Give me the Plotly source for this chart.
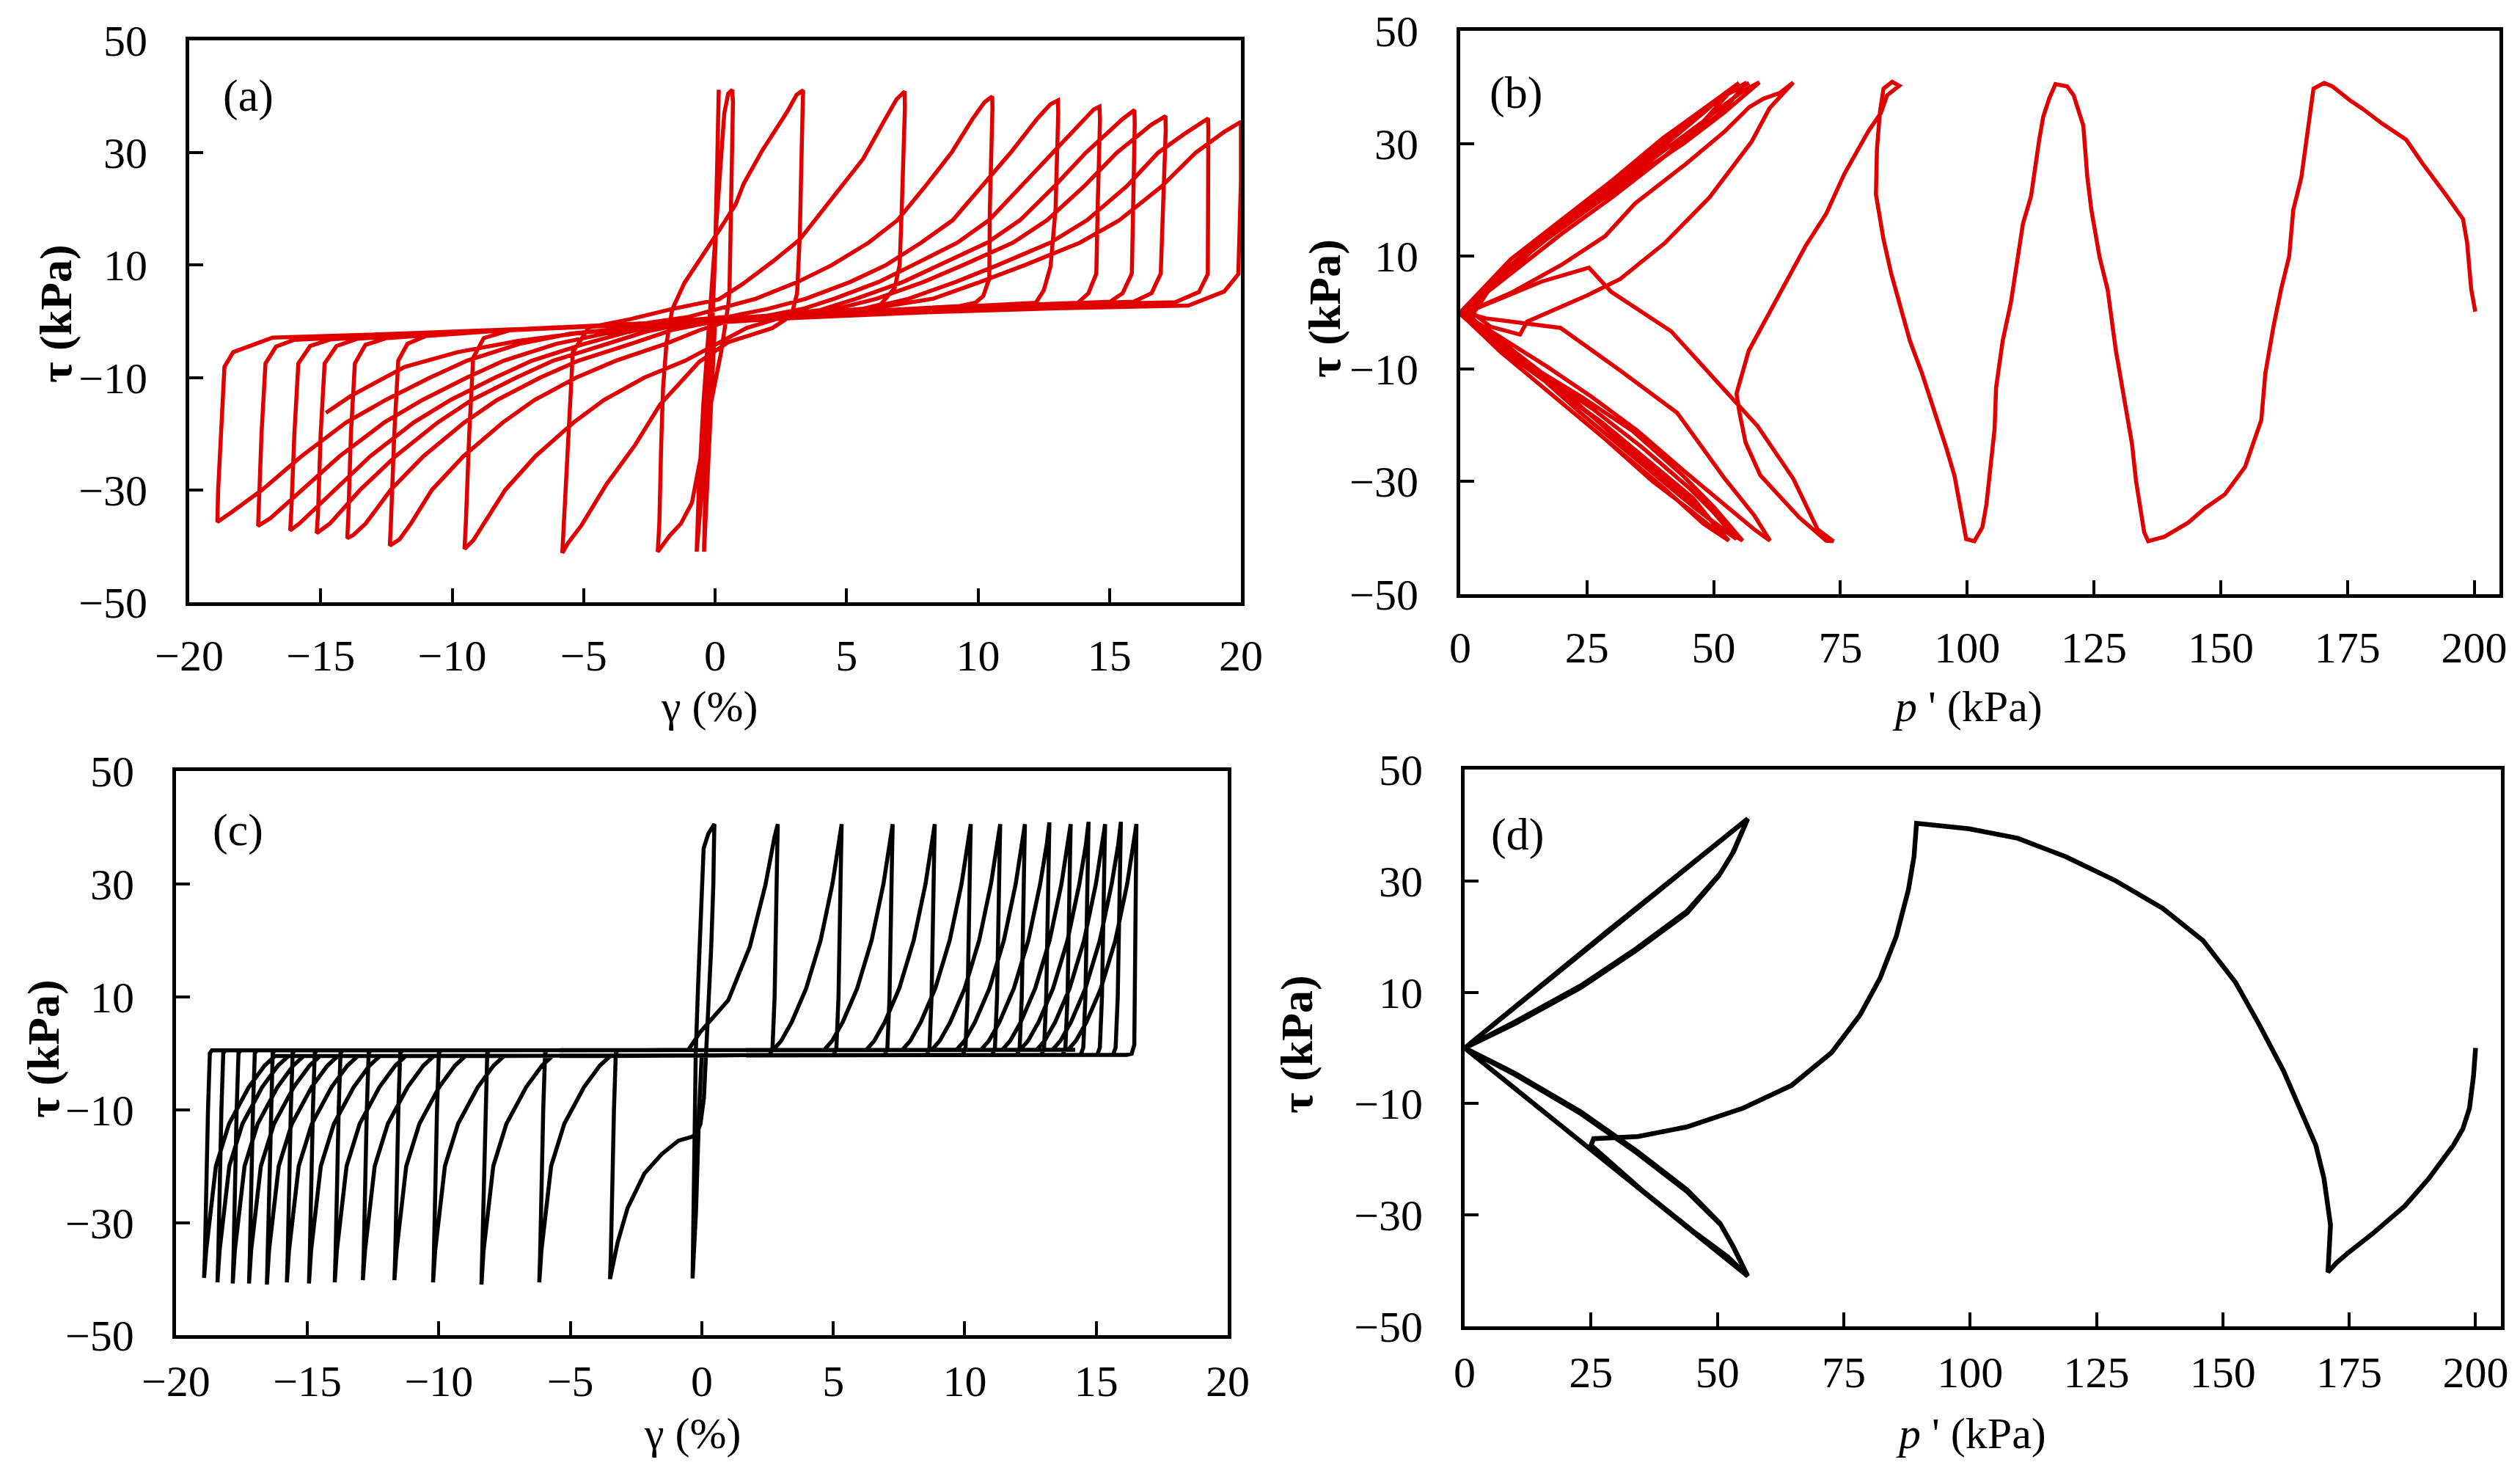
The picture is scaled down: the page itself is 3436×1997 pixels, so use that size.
import plotly.graph_objects as go

# ---------------- data ----------------
# (a) shear strain (%) vs shear stress (kPa), red record
a_early = [
    (0.0, 0.0), (-0.1, -10), (-0.25, -25), (-0.35, -35), (-0.42, -41.0),
    (-0.38, -32), (-0.25, -18), (-0.12, -4), (0.0, 12), (0.08, 28), (0.14, 41.2),
    (0.12, 32), (0.02, 14), (-0.12, -2), (-0.3, -16), (-0.5, -30), (-0.70, -41.0),
    (-0.62, -30), (-0.45, -15), (-0.22, 0), (0.02, 14), (0.2, 28), (0.35, 37), (0.5, 40.5), (0.65, 41.2),
    (0.68, 39), (0.62, 20), (0.55, 6), (0.51, 3.2), (0.23, -5.5), (-0.14, -14.2), (-0.61, -25.9),
    (-0.88, -32.3), (-1.3, -36), (-1.72, -38.1), (-2.18, -41.0),
    (-2.12, -36), (-2.05, -22), (-1.98, -12), (-1.85, -4), (-1.63, 2.1), (-1.17, 6.8), (-0.42, 12.0),
    (0.14, 16.1), (0.78, 20.8), (1.09, 24.5), (1.77, 30.2), (2.32, 34.1), (2.73, 37.2), (3.1, 40.3), (3.35, 41.1),
    (3.33, 38), (3.22, 15), (3.12, 5.0), (2.9, 1.0), (2.18, -1.2), (0.51, -3.7), (-0.6, -7.2), (-2.09, -14.8),
    (-3.04, -22), (-4.13, -29.0), (-5.08, -36.3), (-5.6, -39.5), (-5.81, -41.2),
    (-5.75, -36), (-5.6, -20), (-5.41, -5.5), (-4.8, -1.1), (-3.2, 0.4), (-1.72, 2.1), (0.14, 3.9), (1.07, 6.7),
    (2.18, 10.6), (3.21, 14.5), (3.95, 18.9), (4.79, 23.7), (5.63, 28.9), (6.46, 35.9), (6.9, 39.5), (7.21, 40.9),
]
a_late = [
    (7.22, 38), (7.1, 20), (7.02, 10.0), (6.83, 5.9), (6.3, 3.0), (5.6, 2.2), (4.0, 1.3), (2.4, 0.5), (1.2, -1.2),
    (0.07, -4), (-1.13, -7), (-2.68, -10), (-4.23, -14), (-5.38, -18), (-6.83, -24), (-7.98, -30), (-8.78, -36),
    (-9.2, -39), (-9.53, -40.5),
    (-9.48, -36), (-9.35, -20), (-9.2, -6.5), (-8.8, -3.0), (-7.8, -1.6), (-5.5, -1.1), (-3.0, -0.6), (-1.0, 0.8),
    (0.4, 2.5), (1.54, 4.0), (3.14, 7.0), (4.44, 10), (5.84, 14), (6.94, 18), (7.99, 24), (8.99, 30), (9.79, 36),
    (10.25, 39), (10.54, 40.0),
    (10.55, 38), (10.45, 20), (10.43, 7.6), (10.2, 4.5), (9.9, 3.3), (9.3, 2.7), (6.0, 1.9), (3.0, 1.1), (0.6, 0.2),
    (-0.6, -1.6), (-1.87, -4), (-3.77, -7), (-5.27, -10), (-6.87, -14), (-8.07, -18), (-9.57, -24), (-10.77, -30),
    (-11.57, -36), (-12.0, -38.8), (-12.37, -39.9),
    (-12.33, -36), (-12.2, -20), (-12.05, -7), (-11.7, -4.0), (-11.0, -2.6), (-8.0, -1.6), (-5.0, -1.0), (-2.0, -0.2),
    (0.5, 0.8), (2.0, 2.2), (3.44, 4), (5.14, 7), (6.5, 10), (7.84, 14), (9.04, 18), (10.14, 24), (11.24, 30),
    (12.24, 36), (12.75, 38.6), (13.04, 39.3),
    (13.05, 37), (12.95, 20), (12.76, 9.8), (12.5, 5.5), (12.2, 3.3), (9.0, 2.5), (6.0, 1.8), (3.0, 1.0), (0.0, 0.0),
    (-1.6, -1.5), (-3.19, -4), (-5.19, -7), (-6.64, -10), (-8.29, -14), (-9.54, -18), (-11.09, -24), (-12.34, -30),
    (-13.29, -36), (-13.75, -38), (-13.99, -38.6),
    (-13.95, -35), (-13.85, -20), (-13.7, -7.5), (-13.3, -4.2), (-12.5, -3.0), (-9.0, -1.8), (-5.0, -1.0), (-1.0, 0.0),
    (2.0, 1.0), (3.4, 2.3), (4.52, 4), (6.22, 7), (7.52, 10), (9.22, 14), (10.42, 18), (11.62, 24), (12.82, 30),
    (14.02, 36), (14.4, 37.7), (14.62, 38.2),
    (14.64, 36), (14.55, 20), (14.5, 8.5), (14.2, 5.0), (13.8, 3.3), (10.0, 2.6), (6.0, 1.8), (2.0, 0.8), (-1.0, -0.3),
    (-2.6, -1.8), (-4.15, -4), (-6.15, -7), (-7.55, -10), (-9.25, -14), (-10.55, -18), (-12.15, -24), (-13.5, -30),
    (-14.65, -36), (-15.15, -37.7),
    (-15.1, -34), (-15.0, -20), (-14.85, -7.5), (-14.4, -4.4), (-13.6, -3.1), (-10.0, -2.0), (-6.0, -1.2), (-2.0, -0.2),
    (2.0, 0.9), (4.0, 2.0), (5.35, 4), (7.15, 7), (8.55, 10), (10.35, 14), (11.6, 18), (12.9, 24), (14.1, 30),
    (15.5, 36), (15.95, 37.6),
    (15.96, 35), (15.9, 20), (15.85, 8.5), (15.5, 5.0), (15.03, 3.5), (11.0, 2.7), (6.0, 1.8), (2.0, 0.8), (-2.0, -0.6),
    (-3.4, -2.0), (-4.96, -4), (-6.96, -7), (-8.36, -10), (-10.06, -14), (-11.46, -18), (-13.11, -24), (-14.46, -30),
    (-15.81, -36), (-16.16, -37.2),
    (-16.12, -34), (-16.0, -20), (-15.85, -7.5), (-15.4, -4.4), (-14.6, -3.2), (-11.0, -2.2), (-6.0, -1.2), (-2.0, -0.2),
    (2.0, 0.9), (4.6, 2.2), (6.13, 4), (7.93, 7), (9.43, 10), (11.33, 14), (12.63, 18), (14.03, 24), (15.28, 30),
    (16.6, 35), (17.13, 36.5),
    (17.14, 34), (17.05, 20), (16.95, 8.5), (16.6, 5.0), (15.92, 3.5), (12.0, 2.8), (7.0, 2.0), (2.0, 0.8), (-2.5, -0.8),
    (-4.2, -2.2), (-6.03, -4), (-8.03, -7), (-9.43, -10), (-11.13, -14), (-12.58, -18), (-14.28, -24), (-15.68, -30),
    (-16.9, -35), (-17.38, -36.4),
    (-17.35, -33), (-17.25, -20), (-17.1, -7.5), (-16.7, -4.5), (-16.0, -3.3), (-12.0, -2.4), (-7.0, -1.4), (-2.0, -0.2),
    (3.0, 1.1), (5.8, 2.3), (7.35, 4), (9.15, 7), (10.75, 10), (12.75, 14), (14.15, 18), (15.65, 24), (16.85, 30),
    (17.9, 33.5), (18.75, 36.1),
    (18.76, 34), (18.75, 20), (18.74, 8.4), (18.4, 5.2), (17.5, 3.4), (13.0, 2.9), (8.0, 2.1), (3.0, 1.0), (-2.0, -0.6),
    (-5.5, -2.2), (-7.43, -4), (-9.43, -7), (-10.83, -10), (-12.53, -14), (-14.03, -18), (-15.73, -24), (-17.23, -30),
    (-18.4, -34), (-18.93, -35.7),
    (-18.9, -30), (-18.8, -20), (-18.66, -8.1), (-18.33, -5.5), (-16.83, -2.9), (-12.0, -2.2), (-7.0, -1.3), (-2.0, -0.2),
    (3.0, 1.0), (6.0, 2.3), (8.28, 4), (10.08, 7), (11.78, 10), (13.88, 14), (15.38, 18), (16.98, 24), (18.28, 30),
    (19.36, 33.7), (20.0, 35.5),
    (20.0, 25), (19.9, 8.4), (19.36, 5.3), (18.0, 2.8), (13.0, 2.3), (8.0, 1.6), (3.0, 0.6), (-2.0, -0.8), (-5.0, -2.0),
    (-7.5, -3.5), (-9.8, -5.5), (-11.8, -8.1), (-13.86, -13.3), (-14.8, -16.3),
]

# (b) mean effective stress p' (kPa) vs shear stress (kPa), red record
b_early = [
    (200.2, 0.2), (199.4, 4.2), (198.6, 12.4), (197.8, 16.6), (194.6, 20.7), (189.8, 26.5), (186.6, 30.7),
    (181.8, 33.6), (178.0, 36.2), (175.5, 37.7), (172.0, 40.2), (170.4, 40.8),
    (168.3, 39.8), (167.5, 34.8), (165.9, 24.0), (164.3, 18.2), (163.5, 10.0), (161.9, 4.1), (160.4, -2.5),
    (158.8, -10.8), (158.0, -19.1), (154.8, -27.4), (150.8, -32.3), (146.8, -34.8), (143.6, -37.3), (138.9, -39.8),
    (135.7, -40.6),
    (134.9, -39.0), (133.3, -29.9), (132.5, -23.3), (130.9, -14.9), (129.3, -6.6), (127.7, 4.1), (126.1, 9.9),
    (124.5, 18.2), (123.7, 24.0), (122.9, 33.2), (121.0, 38.6), (119.7, 40.2), (117.4, 40.6),
    (116.2, 38.1), (115.0, 34.8), (114.2, 30.7), (112.6, 20.7), (111.0, 15.8), (109.9, 9.1), (108.6, 1.7),
    (107.0, -5.0), (105.7, -13.3), (105.4, -20.7), (104.6, -27.4), (103.8, -34.0), (103.0, -38.1), (101.4, -40.6),
    (99.8, -40.2), (99.0, -36.5), (97.5, -29.0), (95.9, -24.1), (93.5, -17.4), (91.1, -10.8), (88.7, -5.0),
    (86.5, 2.0), (85.0, 7.0), (83.5, 13.0), (82.0, 21.0), (82.2, 29.0), (82.8, 35.7), (83.5, 39.8), (85.2, 41.0),
    (86.6, 40.3), (84.2, 38.6),
    (83.0, 35.5), (80.5, 32.2), (75.8, 24.7), (72.2, 17.6), (68.1, 11.8), (62.8, 3.1), (56.9, -6.8), (54.5, -14.4),
    (55.1, -17.8), (56.3, -23.1), (59.2, -28.9), (66.9, -36.4), (72.2, -40.5), (73.6, -40.6),
]
b_fan = [
    (70.5, -38.5), (65.7, -29.5), (58.7, -20.2), (50.4, -12.0), (41.6, -3.3), (29.8, 3.7), (25.4, 8.0), (16.0, 5.5),
    (8.0, 2.5), (2.0, 0.3), (6.0, -2.5), (11.8, -3.9), (13.2, -1.6), (25.1, 3.1), (31.6, 6.0), (40.4, 12.4),
    (49.2, 20.5), (57.5, 30.4), (61.0, 36.3), (65.7, 40.9),
    (63.0, 39.0), (59.8, 38.0), (57.0, 36.5), (52.2, 32.2), (44.5, 26.4), (34.5, 19.4), (28.6, 13.6), (20.0, 8.5),
    (10.0, 3.5), (3.0, 0.8), (1.0, 0.0), (5.0, -1.0), (19.8, -2.7), (31.6, -10.3), (42.8, -17.8), (52.2, -29.5),
    (58.0, -36.0), (61.1, -40.5),
    (58.0, -38.5), (52.0, -34.0), (44.0, -28.0), (35.0, -21.0), (26.0, -15.0), (17.0, -9.5), (8.0, -4.5), (2.0, -1.0),
    (6.0, 4.5), (14.0, 11.0), (24.0, 18.0), (34.0, 24.0), (44.0, 30.0), (52.0, 35.5), (56.5, 39.0), (59.0, 40.9),
    (56.0, 39.5), (50.0, 35.5), (40.0, 27.5), (30.0, 20.5), (20.0, 14.0), (10.0, 7.0), (3.0, 2.0), (0.5, 0.0),
    (6.0, -4.5), (14.0, -9.5), (24.0, -15.0), (34.0, -21.0), (44.0, -29.0), (50.0, -34.5), (55.7, -40.5),
    (52.0, -38.5), (46.0, -34.5), (38.0, -28.0), (28.0, -20.0), (18.0, -12.0), (8.0, -5.0), (1.5, -0.5),
    (8.0, 6.5), (17.0, 13.0), (27.0, 19.5), (37.0, 25.5), (46.0, 31.5), (52.0, 36.0), (56.5, 40.9),
    (53.0, 39.0), (46.0, 34.5), (36.0, 27.0), (26.0, 20.0), (16.0, 12.5), (7.0, 5.0), (1.0, 0.5),
    (7.0, -5.5), (16.0, -11.0), (26.0, -17.0), (36.0, -24.0), (45.0, -31.0), (50.0, -35.5), (54.5, -40.2),
    (51.0, -38.0), (44.0, -33.0), (34.0, -25.5), (24.0, -18.0), (14.0, -10.0), (5.0, -3.5), (0.5, 0.0),
    (9.0, 7.5), (19.0, 14.5), (29.0, 21.0), (39.0, 28.0), (48.0, 34.0), (54.5, 40.5),
    (50.0, 37.5), (40.0, 30.5), (30.0, 23.0), (20.0, 16.0), (10.0, 8.5), (2.0, 1.5), (0.3, -0.5),
    (8.0, -6.5), (18.0, -13.0), (28.0, -19.5), (38.0, -27.0), (46.0, -33.0), (52.2, -40.0),
    (46.0, -35.5), (38.0, -30.0), (28.0, -22.0), (18.0, -14.5), (8.0, -7.0), (1.0, -1.0),
    (10.0, 8.5), (20.0, 15.5), (30.0, 22.5), (40.0, 29.5), (48.0, 35.5), (53.0, 39.5), (55.0, 40.8),
    (51.0, 38.0), (42.0, 32.0), (32.0, 24.5), (22.0, 17.5), (12.0, 10.0), (3.0, 2.5), (0.2, 0.0),
    (9.0, -7.0), (19.0, -13.5), (29.0, -20.5), (39.0, -28.0), (47.0, -34.5), (53.0, -40.5),
    (48.0, -37.5), (40.0, -31.0), (30.0, -23.5), (20.0, -16.0), (10.0, -8.5), (2.0, -1.5), (0.5, 0.5),
    (10.0, 9.5), (20.0, 16.5), (30.0, 23.5), (40.0, 31.0), (50.0, 37.5), (57.0, 40.8),
]

# (c) shear strain (%) vs shear stress (kPa), black record
c_early = [
    (0.0, 0.0), (-0.1, -10), (-0.22, -28), (-0.35, -39.9),
    (-0.32, -30), (-0.27, -12), (-0.23, 0.0), (-0.14, 12), (-0.05, 23.3), (0.07, 36.3), (0.25, 38.9), (0.48, 40.6),
    (0.46, 36), (0.44, 30), (0.36, 18.9), (0.19, 1.9), (0.08, -8), (-0.05, -12.5), (-0.2, -14.4), (-0.38, -14.8),
    (-0.89, -15.5), (-1.53, -17.9), (-2.18, -21.3), (-2.82, -27.4), (-3.2, -33.5), (-3.49, -40.0),
    (-3.46, -36), (-3.34, -10), (-3.27, 0.0), (-3.19, 0.5), (-0.51, 0.6), (-0.05, 3.8), (1.01, 9.4), (1.83, 18.9),
    (2.42, 29.8), (2.77, 38.4), (2.89, 40.6),
    (2.87, 36), (2.77, 10), (2.69, 1.0), (2.59, -0.3), (-3.48, -0.5), (-3.88, -2.2), (-4.48, -6), (-5.23, -12.5),
    (-5.73, -20), (-5.93, -27.5), (-6.10, -35), (-6.18, -40.6),
    (-6.15, -36), (-6.03, -10), (-5.96, 0.0), (-5.88, 0.5), (2.72, 0.6), (3.02, 2.2), (3.42, 5.5), (3.97, 11.5),
    (4.52, 20), (4.97, 30), (5.22, 37), (5.32, 40.6),
    (5.30, 36), (5.20, 10), (5.12, 1.0), (5.02, -0.3), (-5.68, -0.5), (-6.08, -2.2), (-6.68, -6), (-7.43, -12.5),
    (-7.93, -20), (-8.13, -27.5), (-8.30, -35), (-8.38, -41.0),
    (-8.35, -36), (-8.23, -10), (-8.16, 0.0), (-8.08, 0.5), (4.66, 0.6), (4.96, 2.2), (5.36, 5.5), (5.91, 11.5),
    (6.46, 20), (6.91, 30), (7.16, 37), (7.26, 40.6),
    (7.24, 36), (7.14, 10), (7.06, 1.0), (6.96, -0.3), (-7.52, -0.5), (-7.92, -2.2), (-8.52, -6), (-9.27, -12.5),
    (-9.77, -20), (-9.97, -27.5), (-10.14, -35), (-10.22, -40.6),
    (-10.19, -36), (-10.07, -10), (-10.0, 0.0), (-9.92, 0.5), (6.26, 0.6), (6.56, 2.2), (6.96, 5.5), (7.51, 11.5),
    (8.06, 20), (8.51, 30), (8.76, 37), (8.86, 40.6),
    (8.84, 36), (8.74, 10), (8.66, 1.0), (8.56, -0.3), (-8.99, -0.5), (-9.39, -2.2), (-9.99, -6), (-10.74, -12.5),
    (-11.24, -20), (-11.44, -27.5), (-11.61, -35), (-11.69, -40.2),
]
c_late = [
    (-11.66, -36), (-11.54, -10), (-11.47, 0.0), (-11.39, 0.5), (7.63, 0.6), (7.93, 2.2), (8.33, 5.5), (8.88, 11.5),
    (9.43, 20), (9.88, 30), (10.13, 37), (10.23, 40.6),
    (10.21, 36), (10.11, 10), (10.03, 1.0), (9.93, -0.3), (-10.19, -0.5), (-10.59, -2.2), (-11.19, -6),
    (-11.94, -12.5), (-12.44, -20), (-12.64, -27.5), (-12.81, -35), (-12.89, -40.2),
    (-12.86, -36), (-12.74, -10), (-12.67, 0.0), (-12.59, 0.5), (8.75, 0.6), (9.05, 2.2), (9.45, 5.5), (10.0, 11.5),
    (10.55, 20), (11.0, 30), (11.25, 37), (11.35, 40.6),
    (11.33, 36), (11.23, 10), (11.15, 1.0), (11.05, -0.3), (-11.26, -0.5), (-11.66, -2.2), (-12.26, -6),
    (-13.01, -12.5), (-13.51, -20), (-13.71, -27.5), (-13.88, -35), (-13.96, -40.6),
    (-13.93, -36), (-13.81, -10), (-13.74, 0.0), (-13.66, 0.5), (9.69, 0.6), (9.99, 2.2), (10.39, 5.5),
    (10.94, 11.5), (11.49, 20), (11.94, 30), (12.19, 37), (12.29, 40.6),
    (12.27, 36), (12.17, 10), (12.09, 1.0), (11.99, -0.3), (-12.24, -0.5), (-12.64, -2.2), (-13.24, -6),
    (-13.99, -12.5), (-14.49, -20), (-14.69, -27.5), (-14.86, -35), (-14.94, -40.8),
    (-14.91, -36), (-14.79, -10), (-14.72, 0.0), (-14.64, 0.5), (10.62, 0.6), (10.92, 2.2), (11.32, 5.5),
    (11.87, 11.5), (12.42, 20), (12.87, 30), (13.12, 37), (13.22, 40.9),
    (13.20, 36), (13.10, 10), (13.02, 1.0), (12.92, -0.3), (-13.08, -0.5), (-13.48, -2.2), (-14.08, -6),
    (-14.83, -12.5), (-15.33, -20), (-15.53, -27.5), (-15.70, -35), (-15.78, -40.6),
    (-15.75, -36), (-15.63, -10), (-15.56, 0.0), (-15.48, 0.5), (11.43, 0.6), (11.73, 2.2), (12.13, 5.5),
    (12.68, 11.5), (13.23, 20), (13.68, 30), (13.93, 37), (14.03, 40.6),
    (14.01, 36), (13.91, 10), (13.83, 1.0), (13.73, -0.3), (-13.84, -0.5), (-14.24, -2.2), (-14.84, -6),
    (-15.59, -12.5), (-16.09, -20), (-16.29, -27.5), (-16.46, -35), (-16.54, -41.0),
    (-16.51, -36), (-16.39, -10), (-16.32, 0.0), (-16.24, 0.5), (12.11, 0.6), (12.41, 2.2), (12.81, 5.5),
    (13.36, 11.5), (13.91, 20), (14.36, 30), (14.61, 37), (14.71, 41.0),
    (14.69, 36), (14.59, 10), (14.51, 1.0), (14.41, -0.3), (-14.52, -0.5), (-14.92, -2.2), (-15.52, -6),
    (-16.27, -12.5), (-16.77, -20), (-16.97, -27.5), (-17.14, -35), (-17.22, -40.8),
    (-17.19, -36), (-17.07, -10), (-17.0, 0.0), (-16.92, 0.5), (12.74, 0.6), (13.04, 2.2), (13.44, 5.5),
    (13.99, 11.5), (14.54, 20), (14.99, 30), (15.24, 37), (15.34, 40.6),
    (15.32, 36), (15.22, 10), (15.14, 1.0), (15.04, -0.3), (-15.14, -0.5), (-15.54, -2.2), (-16.14, -6),
    (-16.89, -12.5), (-17.39, -20), (-17.59, -27.5), (-17.76, -35), (-17.84, -40.8),
    (-17.81, -36), (-17.69, -10), (-17.62, 0.0), (-17.54, 0.5), (13.34, 0.6), (13.64, 2.2), (14.04, 5.5),
    (14.59, 11.5), (15.14, 20), (15.59, 30), (15.84, 37), (15.94, 41.0),
    (15.92, 36), (15.82, 10), (15.74, 1.0), (15.64, -0.3), (-15.72, -0.5), (-16.12, -2.2), (-16.72, -6),
    (-17.47, -12.5), (-17.97, -20), (-18.17, -27.5), (-18.34, -35), (-18.42, -40.6),
    (-18.39, -36), (-18.27, -10), (-18.2, 0.0), (-18.12, 0.5), (13.93, 0.6), (14.23, 2.2), (14.63, 5.5),
    (15.18, 11.5), (15.73, 20), (16.18, 30), (16.43, 37), (16.53, 40.6),
    (16.52, 36), (16.47, 10), (16.45, 1.5), (16.35, -0.1), (16.15, -0.3), (-16.23, -0.5), (-16.63, -2.2),
    (-17.23, -6), (-17.98, -12.5), (-18.48, -20), (-18.68, -27.5), (-18.85, -35), (-18.93, -39.8),
    (-18.9, -36), (-18.78, -10), (-18.71, 0.0), (-18.63, 0.5), (14.2, 0.6),
]

# (d) mean effective stress p' (kPa) vs shear stress (kPa), black record
d_arc = [
    (200.0, 0.0), (199.6, -5.0), (198.8, -10.8), (197.5, -14.5), (195.6, -17.5), (190.8, -23.4), (186.0, -28.4),
    (179.6, -33.4), (174.8, -36.8), (172.5, -38.6), (170.8, -40.3),
    (171.1, -36.0), (171.3, -31.8), (170.0, -23.4), (168.4, -17.5), (165.2, -10.8), (162.0, -4.1), (157.2, 4.2),
    (152.5, 11.8), (146.1, 19.3), (138.1, 25.1), (128.5, 30.2), (118.9, 34.4), (109.4, 37.7), (99.8, 39.4),
    (89.4, 40.4),
    (89.2, 37.0), (88.9, 34.4), (87.8, 28.5), (85.4, 20.1), (82.2, 12.6), (78.2, 5.9), (72.6, -0.8), (64.7, -6.7),
    (55.1, -10.8), (43.9, -14.2), (34.3, -15.9), (29.5, -16.2), (25.5, -16.3), (25.0, -17.5),
]
d_loops = [
    (35.0, -25.5), (45.0, -32.8), (52.0, -37.5), (56.0, -41.0),
    (53.0, -35.5), (50.5, -31.5), (44.0, -25.5), (34.0, -18.5), (23.0, -11.5), (10.0, -4.6), (0.0, 0.0),
    (10.0, 4.4), (23.0, 10.9), (34.0, 17.6), (44.0, 24.3), (50.3, 31.0), (53.0, 35.0), (56.0, 41.2),
    (28.0, 20.6), (0.0, 0.0),
    (28.0, -20.5), (56.0, -41.0),
    (53.2, -35.8), (50.7, -31.8), (44.0, -25.8), (34.0, -18.8), (23.0, -11.8), (10.0, -4.8), (0.0, 0.0),
    (10.0, 4.7), (23.0, 11.2), (34.0, 17.9), (44.0, 24.6), (50.5, 31.3), (53.2, 35.3), (56.0, 41.2),
    (28.0, 20.8), (0.0, 0.0),
]

strain_ticks = [-20, -15, -10, -5, 0, 5, 10, 15, 20]
stress_ticks = [-50, -30, -10, 10, 30, 50]
pressure_ticks = [0, 25, 50, 75, 100, 125, 150, 175, 200]

RED = '#E00000'
FONT = 'Liberation Serif'
W, H = 3420, 1981  # page body keeps an 8 px margin around the plot

fig = go.Figure()


def add_path(points, xref, yref, color, width):
    fig.add_trace(go.Scatter(
        x=[p[0] for p in points], y=[p[1] for p in points],
        mode='lines', line=dict(color=color, width=width),
        xaxis=xref, yaxis=yref, showlegend=False, hoverinfo='skip'
    ))


add_path(a_early + a_late, 'x', 'y', RED, 5.5)
add_path(b_early + b_fan, 'x2', 'y2', RED, 5.5)
add_path(c_early + c_late, 'x3', 'y3', 'black', 5.5)
add_path(d_arc + d_loops, 'x4', 'y4', 'black', 6.5)

axis_style = dict(
    showline=True, linecolor='black', linewidth=5, mirror=True,
    ticks='inside', ticklen=19, tickwidth=4, tickcolor='black',
    showgrid=False, zeroline=False,
    tickfont=dict(family=FONT, size=60, color='black'),
)
strain_axis = dict(axis_style, range=[-20, 20], tickvals=strain_ticks)
pressure_axis = dict(axis_style, range=[0, 205], tickvals=pressure_ticks)
stress_axis = dict(axis_style, range=[-50, 50], tickvals=stress_ticks, ticklabelstandoff=40)

fig.update_layout(
    template='none',
    width=W, height=H,
    margin=dict(l=0, r=0, t=0, b=0),
    paper_bgcolor='white', plot_bgcolor='white',
    font=dict(family=FONT, color='black'),
    xaxis=dict(strain_axis, domain=[0.0731, 0.4924], anchor='y', ticklabelstandoff=16),
    yaxis=dict(stress_axis, domain=[0.5896, 0.9763], anchor='x'),
    xaxis2=dict(pressure_axis, domain=[0.5798, 0.9942], anchor='y2', ticklabelstandoff=16),
    yaxis2=dict(stress_axis, domain=[0.5952, 0.9826], anchor='x2'),
    xaxis3=dict(strain_axis, domain=[0.0678, 0.4871], anchor='y3', ticklabelstandoff=6),
    yaxis3=dict(stress_axis, domain=[0.0851, 0.4735], anchor='x3'),
    xaxis4=dict(pressure_axis, domain=[0.5816, 0.9947], anchor='y4', ticklabelstandoff=6),
    yaxis4=dict(stress_axis, domain=[0.0915, 0.4743], anchor='x4'),
)

title_font = dict(family=FONT, size=62, color='black')
xtitle_font = dict(family=FONT, size=60, color='black')

# x-axis titles
for text, px, py in [('γ (%)', 0.2804, 0.5179), ("<i>p</i> ' (kPa)", 0.7819, 0.5179),
                     ('γ (%)', 0.2737, 0.0177), ("<i>p</i> ' (kPa)", 0.7836, 0.0177)]:
    fig.add_annotation(text=text, xref='paper', yref='paper', x=px, y=py,
                       xanchor='center', yanchor='middle', showarrow=False, font=xtitle_font)

# y-axis titles
for px, py in [(0.0202, 0.7880), (0.5257, 0.7920), (0.0152, 0.2827), (0.5146, 0.2857)]:
    fig.add_annotation(text='<b>τ (kPa)</b>', xref='paper', yref='paper', x=px, y=py, textangle=-90,
                       xanchor='center', yanchor='middle', showarrow=False, font=title_font)

# panel letters
for text, xr, yr, px, py in [('(a)', 'x', 'y', 0.056, 0.902), ('(b)', 'x2', 'y2', 0.054, 0.891),
                             ('(c)', 'x3', 'y3', 0.059, 0.896), ('(d)', 'x4', 'y4', 0.051, 0.884)]:
    fig.add_annotation(text=text, xref=xr + ' domain', yref=yr + ' domain', x=px, y=py,
                       xanchor='center', yanchor='middle', showarrow=False, font=title_font)

fig.write_html("out.html")
